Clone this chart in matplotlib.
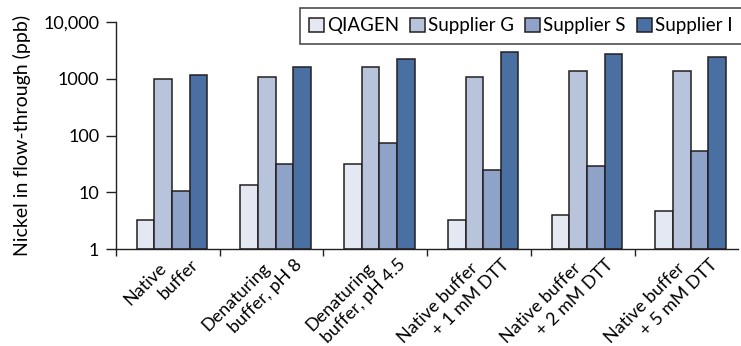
import matplotlib.pyplot as plt
import numpy as np
from matplotlib.ticker import FixedLocator

plt.rcParams['font.family'] = ['Lato', 'DejaVu Sans']

# conditions on the x axis, two lines each
line1 = ['Native', 'Denaturing', 'Denaturing', 'Native buffer', 'Native buffer', 'Native buffer']
line2 = ['buffer', 'buffer, pH 8', 'buffer, pH 4.5', '+ 1 mM DTT', '+ 2 mM DTT', '+ 5 mM DTT']

# nickel in flow-through (ppb)
qiagen = [3.3, 13.5, 31, 3.3, 4.0, 4.7]
supplier_g = [1000, 1070, 1650, 1070, 1350, 1350]
supplier_s = [10.6, 31, 74, 25, 29, 54]
supplier_i = [1150, 1650, 2200, 3000, 2770, 2460]

series = ['QIAGEN', 'Supplier G', 'Supplier S', 'Supplier I']
colors = ['#e4e8f3', '#b8c3dc', '#8fa2c7', '#4a6fa3']
edge = '#231f20'

fig = plt.figure(figsize=(7.41, 3.46), dpi=100)
ax = fig.add_axes([0.1565, 0.280, 0.84, 0.656])

x = np.arange(len(line1))
w = 0.17
for k, (vals, name, c) in enumerate(zip([qiagen, supplier_g, supplier_s, supplier_i], series, colors)):
    vals = np.array(vals)
    ax.bar(x + (k - 1.5) * w + 0.04, vals - 1, width=w, bottom=1, color=c, edgecolor=edge,
           linewidth=1.1, label=name)

ax.set_yscale('log')
ax.set_ylim(1, 10000)
ax.set_xlim(-0.5, len(line1) - 0.5)
ax.set_yticks([1, 10, 100, 1000, 10000])
ax.set_yticklabels(['1', '10', '100', '1000', '10,000'])
ax.yaxis.set_minor_locator(FixedLocator([]))
ax.tick_params(axis='y', which='major', length=7, width=1, color=edge, labelsize=13, pad=5)

# category labels: each line placed on its own, second line shifted right
ax.set_xticks([])
ax.xaxis.set_minor_locator(FixedLocator(x - 0.5))
ax.tick_params(axis='x', which='minor', length=5, width=1, color=edge)
for xi, a, b in zip(x, line1, line2):
    ax.annotate(a, xy=(xi, 0), xycoords=('data', 'axes fraction'), xytext=(-4, -16),
                textcoords='offset pixels', rotation=45, ha='right', va='center',
                rotation_mode='anchor', fontsize=13)
    ax.annotate(b, xy=(xi, 0), xycoords=('data', 'axes fraction'), xytext=(28, -13),
                textcoords='offset pixels', rotation=45, ha='right', va='center',
                rotation_mode='anchor', fontsize=13)

for s in ['top', 'right']:
    ax.spines[s].set_visible(False)
for s in ['left', 'bottom']:
    ax.spines[s].set_color(edge)
    ax.spines[s].set_linewidth(1)

ax.set_ylabel('Nickel in flow-through (ppb)', fontsize=14, labelpad=9)

leg = ax.legend(ncol=4, loc='upper right', bbox_to_anchor=(1.005, 1.062), fontsize=13.5,
                frameon=True, fancybox=False, handlelength=0.8, handleheight=0.8,
                handletextpad=0.15, columnspacing=0.6, borderpad=0.5, borderaxespad=0)
leg.get_frame().set_edgecolor(edge)
leg.get_frame().set_linewidth(1.2)

fig.savefig('out.png', dpi=100)
